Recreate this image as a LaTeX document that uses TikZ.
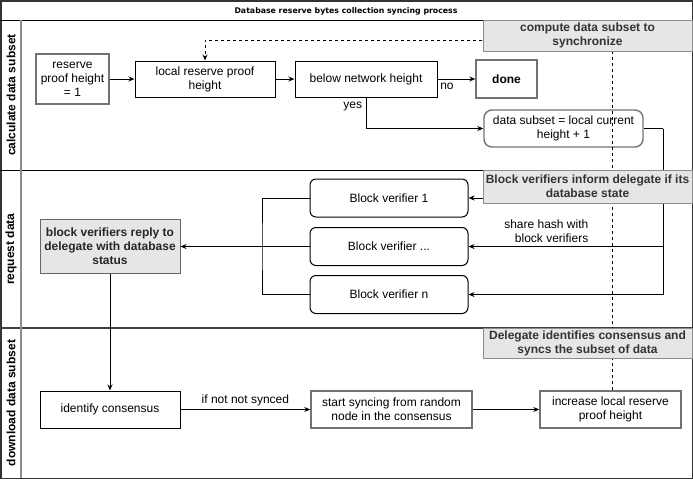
\documentclass[tikz,border=0pt]{standalone}
\usepackage{fontspec}
\setmainfont{Liberation Sans}
\newfontfamily\titlefont{DejaVu Sans}
\usetikzlibrary{arrows.meta}
\definecolor{notegray}{HTML}{E6E6E6}
\definecolor{linegray}{HTML}{8C8C8C}
\newcommand\bvdots{...}

\begin{document}
\begin{tikzpicture}[x=1pt, y=-1pt, line width=1pt, >={Stealth[length=6pt,width=5pt]},
		font=\fontsize{12}{14}\selectfont,
		box/.style={draw, align=center, inner sep=1pt, minimum width=140, minimum height=37},
		gbox/.style={box, draw=black!55, line width=1.4pt},
		rbox/.style={box, rounded corners=6pt},
		note/.style={box, fill=notegray, draw=linegray, text=black!80, font=\fontsize{12}{14}\selectfont\bfseries, minimum width=209},
		lane/.style={rotate=90, font=\fontsize{12}{14}\selectfont\bfseries}]
		\useasboundingbox (0,0) rectangle (693,479);
		\draw[black!80, line width=1.5pt] (0.75,0.75) rectangle (692.25,478.25);
		\draw (0,20) -- (692,20);
		\draw (0,170) -- (692,170);
		\draw[black!75, line width=1.6pt] (0,328) -- (692,328);
		\draw[linegray, line width=2pt] (21,20) -- (21,478);
		\path (346,11) node (title) {\titlefont\bfseries\fontsize{7.8}{9}\selectfont Database reserve bytes collection syncing process};
		\foreach \y/\t/\n in {95/calculate data subset/l1, 249/request data/l2, 403/download data subset/l3}
			\path (11,\y) node[lane] (\n) {\t};
		
		\path	(72.5,79) node[gbox, minimum width=73, minimum height=50] (start) {reserve\\proof height\\= 1}
			(205,79) node[box, minimum height=36] (local) {local reserve proof\\height}
			(366,79) node[box, minimum width=142, minimum height=36] (below) {below network height}
			(506.5,79) node[gbox, minimum width=61, minimum height=38, font=\fontsize{12}{14}\selectfont\bfseries] (done) {done}
			(563.5,128.5) node[gbox, rounded corners=8pt, minimum width=159] (subset) {data subset = local current\\height + 1};
		\foreach \n/\y/\t in {bv1/198/1, bv2/246.5/\bvdots, bvn/294.5/n}
			\path (389,\y) node[rbox, minimum width=158, minimum height=38] (\n) {Block verifier \t};
		\path	(110,246.5) node[box, fill=notegray, draw=black!60, text=black!85, minimum height=54, font=\fontsize{12}{14}\selectfont\bfseries] (reply) {block verifiers reply to\\delegate with database\\status}
			(110,409.5) node[box] (ident) {identify consensus}
			(391.5,409.5) node[gbox, minimum width=161] (sync) {start syncing from random\\node in the consensus}
			(610.5,409.5) node[gbox, minimum width=141] (incr) {increase local reserve\\proof height};
		
		\draw[->] (start) -- (local);
		\draw[->] (local) -- (below);
		\draw[->] (below) -- node[below, pos=0.25] (lno) {no} (done);
		\draw[->] (below.south) |- node[left, pos=0.15] (lyes) {yes} (subset.west);
		\coordinate (tr) at (663,128.5);
		\draw (subset.east) -- (tr);
		\draw[->] (tr) |- (bv1.east);
		\draw[->] (tr) |- node[above, pos=0.8, align=right] (lhash) {share hash with\\block verifiers} (bv2.east);
		\draw[->] (tr) |- (bvn.east);
		\coordinate (tl) at (262,246.5);
		\draw (bv1.west) -| (tl) |- (bvn.west);
		\draw[->] (bv2.west) -- (reply.east);
		\draw[->] (reply.south) -- (ident.north);
		\draw[->] (ident) -- node[above] (lsync) {if not not synced} (sync);
		\draw[->] (sync) -- (incr);
		\coordinate (dc) at (612,40);
		\draw[->, dash pattern=on 3pt off 3pt] (incr.north -| dc) -- (dc) -| (local.north);
		
		\path	(587.5,35.5) node[note, minimum height=31] (n1) {compute data subset to\\synchronize}
			(587.5,186.5) node[note, minimum height=33] (n2) {Block verifiers inform delegate if its\\database state}
			(587.5,343) node[note, minimum height=30] (n3) {Delegate identifies consensus and\\syncs the subset of data};
	\end{tikzpicture}
\end{document}
